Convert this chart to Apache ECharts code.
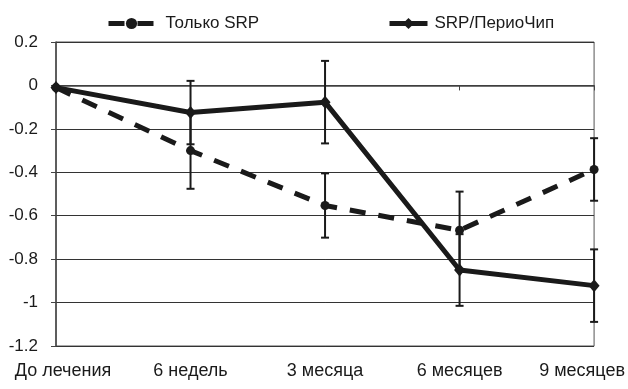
<!DOCTYPE html>
<html>
<head>
<meta charset="utf-8">
<script src="https://cdn.jsdelivr.net/npm/echarts@6/dist/echarts.min.js"></script>
<style>html,body{margin:0;padding:0;background:#fff}#c{width:628px;height:389px}</style>
</head>
<body>
<div id="c"></div>
<script>
const categories = ['До лечения', '6 недель', '3 месяца', '6 месяцев', '9 месяцев'];
const seriesNames = ['Только SRP', 'SRP/ПериоЧип'];
const srpOnly = [-0.01, -0.30, -0.553, -0.667, -0.387];
const srpOnlyErr = [0, 0.176, 0.148, 0.178, 0.144];
const srpChip = [-0.01, -0.125, -0.077, -0.85, -0.922];
const srpChipErr = [0, 0.146, 0.19, 0.165, 0.167];
const yTicks = { min: -1.2, max: 0.2, step: 0.2 };

const FONT = 'Liberation Sans, Arial, sans-serif';
const INK = '#1a1a1a';

function errData(vals, errs) {
  return vals.map((v, i) => [i, v - errs[i], v + errs[i], errs[i]]);
}
function errRender(params, api) {
  if (api.value(3) <= 0) return null;
  const lo = api.coord([api.value(0), api.value(1)]);
  const hi = api.coord([api.value(0), api.value(2)]);
  const cw = 4;
  const st = { stroke: INK, lineWidth: 2 };
  return {
    type: 'group',
    children: [
      { type: 'line', shape: { x1: lo[0], y1: lo[1], x2: hi[0], y2: hi[1] }, style: st },
      { type: 'line', shape: { x1: lo[0] - cw, y1: lo[1], x2: lo[0] + cw, y2: lo[1] }, style: st },
      { type: 'line', shape: { x1: hi[0] - cw, y1: hi[1], x2: hi[0] + cw, y2: hi[1] }, style: st }
    ]
  };
}

const chart = echarts.init(document.getElementById('c'), null, { renderer: 'canvas' });
chart.setOption({
  animation: false,
  backgroundColor: '#fff',
  textStyle: { fontFamily: FONT, color: INK },
  legend: [
    {
      data: [seriesNames[0]], left: 101, top: 10, itemWidth: 46, itemHeight: 14,
      lineStyle: { width: 5, type: [16, 13], color: INK, cap: 'butt' },
      textStyle: { fontSize: 17, color: INK, fontFamily: FONT, padding: [0, 0, 0, 6] }
    },
    {
      data: [seriesNames[1]], left: 382, top: 10, itemWidth: 38, itemHeight: 14,
      lineStyle: { width: 5, type: 'solid', color: INK },
      textStyle: { fontSize: 17, color: INK, fontFamily: FONT, padding: [0, 0, 0, 2] }
    }
  ],
  grid: { left: 56, right: 33, top: 42, bottom: 43, show: true, borderColor: '#555', borderWidth: 1 },
  xAxis: {
    type: 'category', data: categories, boundaryGap: false,
    axisLine: { lineStyle: { color: '#444', width: 1.5 } },
    axisTick: { show: true, length: 5, interval: 0, lineStyle: { color: '#444' } },
    axisLabel: {
      interval: 0, hideOverlap: false,
      fontSize: 18, color: INK, fontFamily: FONT, margin: 16,
      formatter: function (v, i) {
        if (i === 0) return '{f|' + v + '}';
        if (i === categories.length - 1) return '{l|' + v + '}';
        return '{m|' + v + '}';
      },
      rich: {
        f: { fontSize: 18, fontFamily: FONT, color: INK, padding: [0, 0, 0, 14] },
        l: { fontSize: 18, fontFamily: FONT, color: INK, padding: [0, 24, 0, 0] },
        m: { fontSize: 18, fontFamily: FONT, color: INK }
      }
    },
    splitLine: { show: false }
  },
  yAxis: {
    type: 'value', min: yTicks.min, max: yTicks.max, interval: yTicks.step,
    axisLine: { show: true, lineStyle: { color: '#444', width: 1.5 } },
    axisTick: { show: true, length: 5, lineStyle: { color: '#444' } },
    axisLabel: { fontSize: 17, color: INK, fontFamily: FONT, margin: 18 },
    splitLine: { show: true, lineStyle: { color: '#333', width: 1 } }
  },
  series: [
    {
      type: 'custom', name: 'err1', renderItem: errRender, data: errData(srpOnly, srpOnlyErr),
      encode: { x: 0, y: [1, 2] }, z: 1, silent: true
    },
    {
      type: 'custom', name: 'err2', renderItem: errRender, data: errData(srpChip, srpChipErr),
      encode: { x: 0, y: [1, 2] }, z: 1, silent: true
    },
    {
      type: 'line', name: seriesNames[0], data: srpOnly, z: 3,
      symbol: 'circle', symbolSize: 9, showAllSymbol: true,
      itemStyle: { color: INK },
      lineStyle: { color: INK, width: 5, type: [16, 13], cap: 'butt' }
    },
    {
      type: 'line', name: seriesNames[1], data: srpChip, z: 4,
      symbol: 'diamond', symbolSize: [11, 13], showAllSymbol: true,
      itemStyle: { color: INK },
      lineStyle: { color: INK, width: 5, type: 'solid' }
    }
  ]
});
</script>
</body>
</html>
